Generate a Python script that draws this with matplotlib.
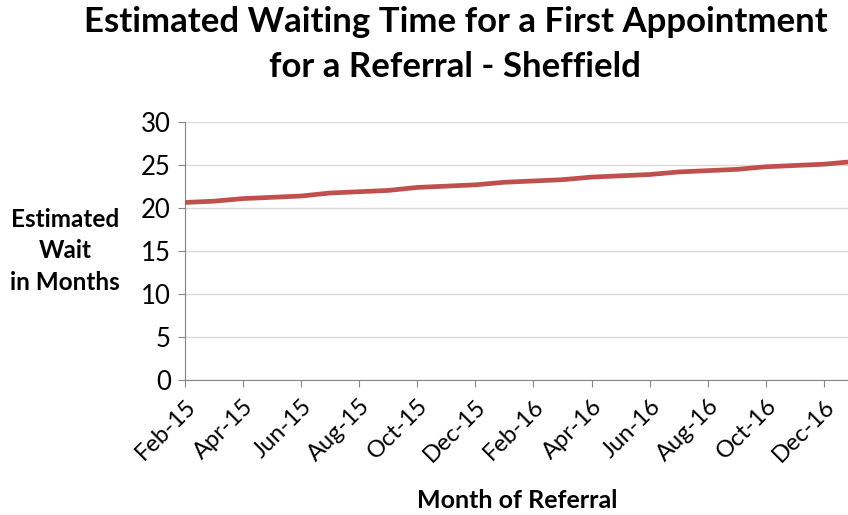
import matplotlib
matplotlib.use("Agg")
import matplotlib.pyplot as plt

plt.rcParams['font.family'] = ['Lato', 'DejaVu Sans']

# month of referral (Feb-15 .. Jan-17) and estimated wait in months
months = ["Feb-15", "Mar-15", "Apr-15", "May-15", "Jun-15", "Jul-15", "Aug-15", "Sep-15",
          "Oct-15", "Nov-15", "Dec-15", "Jan-16", "Feb-16", "Mar-16", "Apr-16", "May-16",
          "Jun-16", "Jul-16", "Aug-16", "Sep-16", "Oct-16", "Nov-16", "Dec-16", "Jan-17"]
wait = [20.65, 20.8, 21.1, 21.25, 21.4, 21.75, 21.9, 22.05, 22.4, 22.55, 22.7, 23.0,
        23.15, 23.3, 23.6, 23.75, 23.9, 24.2, 24.35, 24.5, 24.8, 24.95, 25.1, 25.4]
yticks = [0, 5, 10, 15, 20, 25, 30]

fig = plt.figure(figsize=(8.48, 5.15), dpi=100)
ax = fig.add_axes([0.218, 0.262, 0.782, 0.501])

x = list(range(len(months)))
ax.plot(x, wait, color='#c0504d', linewidth=3.4, solid_capstyle='butt', zorder=3)

ax.set_ylim(0, 30)
ax.set_xlim(0, 22.83)
ax.set_yticks(yticks)
ax.set_xticks(x[::2])
ax.set_xticklabels(months[::2], rotation=45, ha='right', rotation_mode='anchor', fontsize=17)
ax.tick_params(axis='y', labelsize=18.5, length=5, color='#868686', pad=5)
ax.tick_params(axis='x', length=5, color='#868686', pad=6)

ax.grid(axis='y', color='#d9d9d9', linewidth=1)
ax.set_axisbelow(True)
for s in ['top', 'right']:
    ax.spines[s].set_visible(False)
for s in ['left', 'bottom']:
    ax.spines[s].set_color('#868686')

fig.text(0.537, 0.988, "Estimated Waiting Time for a First Appointment\nfor a Referral - Sheffield",
         ha='center', va='top', fontsize=25, fontweight='bold', linespacing=1.5)
fig.text(0.077, 0.513, "Estimated\nWait\nin Months", ha='center', va='center',
         fontsize=17.5, fontweight='bold', linespacing=1.45)
fig.text(0.61, 0.028, "Month of Referral", ha='center', va='center', fontsize=18, fontweight='bold')

fig.savefig("out.png", dpi=100)
